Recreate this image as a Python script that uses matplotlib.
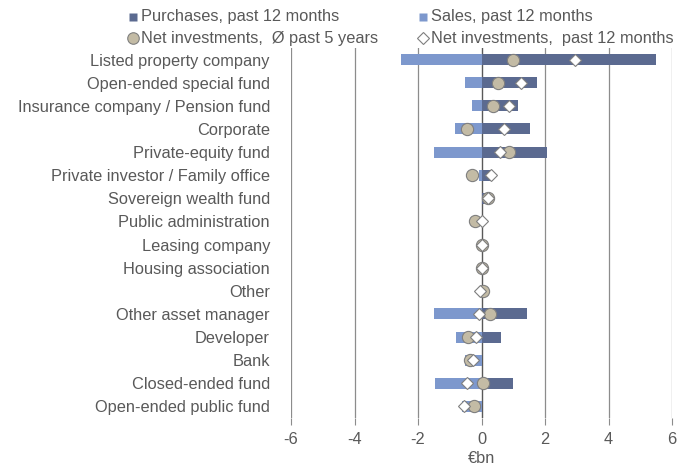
import matplotlib
matplotlib.use("Agg")
import matplotlib.pyplot as plt
from matplotlib.lines import Line2D

plt.rcParams['font.family'] = ['Liberation Sans', 'DejaVu Sans']

categories = [
    "Listed property company",
    "Open-ended special fund",
    "Insurance company / Pension fund",
    "Corporate",
    "Private-equity fund",
    "Private investor / Family office",
    "Sovereign wealth fund",
    "Public administration",
    "Leasing company",
    "Housing association",
    "Other",
    "Other asset manager",
    "Developer",
    "Bank",
    "Closed-ended fund",
    "Open-ended public fund",
]
purchases = [5.5, 1.75, 1.15, 1.54, 2.07, 0.37, 0.15, 0.04, 0.0, 0.0, 0.0, 1.42, 0.62, 0.0, 0.98, 0.0]
sales = [-2.55, -0.53, -0.31, -0.84, -1.51, -0.08, 0.0, -0.02, 0.0, 0.0, 0.0, -1.5, -0.81, -0.52, -1.48, -0.6]
net_5y = [0.98, 0.52, 0.36, -0.46, 0.88, -0.3, 0.2, -0.22, 0.0, 0.0, 0.05, 0.28, -0.43, -0.36, 0.06, -0.24]
net_12m = [2.96, 1.25, 0.86, 0.7, 0.59, 0.3, 0.2, 0.02, 0.0, 0.0, -0.05, -0.09, -0.16, -0.26, -0.47, -0.54]
xticks = [-6, -4, -2, 0, 2, 4, 6]

c_purch = "#5B6A90"
c_sales = "#7D98CD"
c_circle = "#C3BBA5"
c_edge = "#7F7F7F"
c_text = "#595959"
fs = 11.8

W, H = 688, 467
fig = plt.figure(figsize=(W / 100, H / 100), dpi=100)
ax = fig.add_axes([291 / W, 1 - 418 / H, (672 - 291) / W, (418 - 48) / H])

y = list(range(len(categories)))
ax.set_xlim(-6, 6)
ax.set_ylim(len(categories) - 0.5, -0.5)

for t in xticks:
    if t == 0:
        ax.axvline(t, color="#595959", lw=1.0, zorder=1)
    else:
        ax.axvline(t, color="#8C8C8C", lw=0.9, zorder=1)

circle_style = dict(linestyle="none", marker="o", markersize=8.8,
                    markerfacecolor=c_circle, markeredgecolor=c_edge, markeredgewidth=0.8)
diamond_style = dict(linestyle="none", marker="D", markersize=6.4,
                     markerfacecolor="white", markeredgecolor=c_edge, markeredgewidth=0.8)

ax.barh(y, purchases, height=0.48, color=c_purch, zorder=2)
ax.barh(y, sales, height=0.48, color=c_sales, zorder=2)
ax.plot(net_5y, y, zorder=3, **circle_style)
ax.plot(net_12m, y, zorder=4, **diamond_style)

for s in ax.spines.values():
    s.set_visible(False)

ax.set_xticks(xticks)
ax.set_xticklabels([str(t) for t in xticks])
ax.tick_params(axis="x", direction="out", length=5, width=0.8, color="#8C8C8C",
               labelsize=fs, labelcolor=c_text, pad=5)
ax.set_yticks(y)
ax.set_yticklabels(categories)
ax.tick_params(axis="y", length=0, labelsize=fs, labelcolor=c_text,
               pad=(291 - 270) * 0.72)

ax.set_xlabel("€bn", fontsize=fs, color=c_text, labelpad=3)

# Legend laid out as a 2x2 grid in figure pixels
def fx(px):
    return px / W

def fy(py):
    return 1 - py / H

legend_items = [
    (133, 17, dict(linestyle="none", marker="s", markersize=6, markerfacecolor=c_purch,
                   markeredgecolor="none"), "Purchases, past 12 months"),
    (423, 17, dict(linestyle="none", marker="s", markersize=6, markerfacecolor=c_sales,
                   markeredgecolor="none"), "Sales, past 12 months"),
    (133, 38, circle_style, "Net investments,  Ø past 5 years"),
    (423, 38, diamond_style, "Net investments,  past 12 months"),
]
for px, py, style, text in legend_items:
    st = dict(style)
    if st.get("marker") == "o":
        st["markersize"] = 8.3
    elif st.get("marker") == "D":
        st["markersize"] = 6.0
    fig.add_artist(Line2D([fx(px)], [fy(py)], transform=fig.transFigure, **st))
    fig.text(fx(px + 8), fy(py), text, fontsize=fs, color=c_text,
             ha="left", va="center")

fig.savefig("out.png", dpi=100)
